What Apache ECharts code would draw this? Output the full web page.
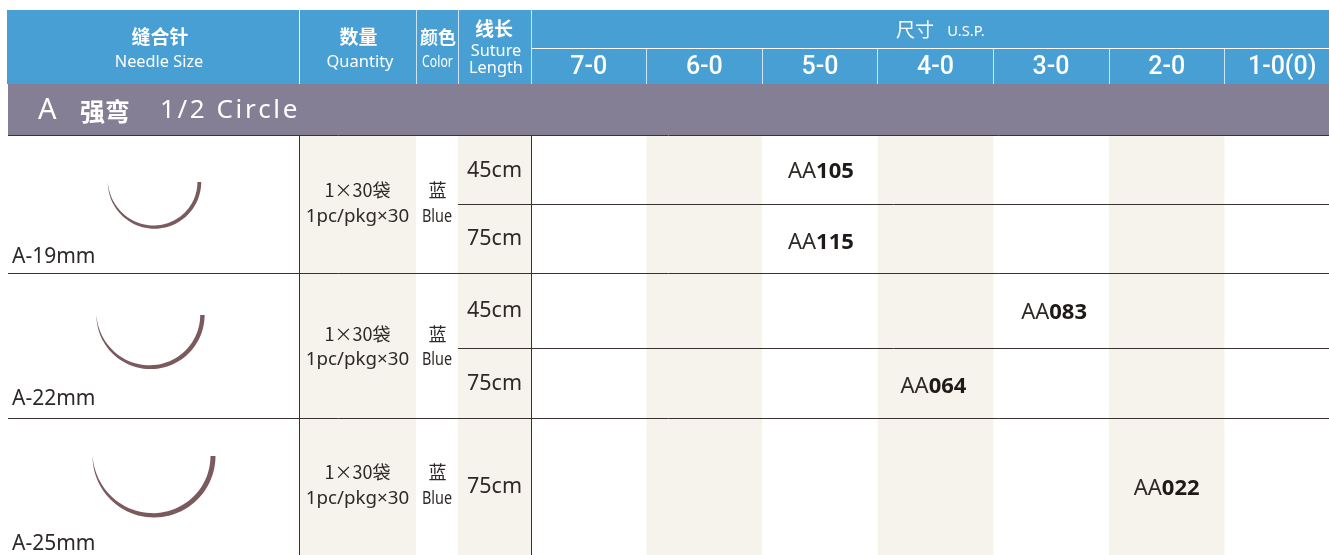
<!DOCTYPE html>
<html>
<head>
<meta charset="utf-8">
<style>
html, body { margin: 0; background: #fff; }
#main { width: 1329px; height: 555px; }
</style>
</head>
<body>
<div id="main"></div>
<script src="https://cdn.jsdelivr.net/npm/echarts@6/dist/echarts.min.js"></script>
<script>
// 数据
const sizes = ['7-0', '6-0', '5-0', '4-0', '3-0', '2-0', '1-0(0)']
const needleLabels = ['A-19mm', 'A-22mm', 'A-25mm']
const needleMm = [19, 22, 25]
const rowLengths = ['45cm', '75cm', '45cm', '75cm', '75cm']
const codeSizes = ['5-0', '5-0', '3-0', '4-0', '2-0']
const codeNumbers = ['105', '115', '083', '064', '022']
const codePrefix = 'AA'

// 版面
const rowCenters = [172, 243, 313, 387, 489]
const codeShift = [1, 1, 3, -2, 0]
const lengthCenters = [171, 239, 311, 384, 487]
const needleCenters = [[154.5, 182], [150.5, 315], [154, 456]]
const needleLabelY = [257.5, 399, 544.5]
const qtyY = [[190, 217], [334, 360], [472, 499]]
const pxPerMm = 2.46

const BLUE = '#479FD4'
const GREY = '#857F95'
const CREAM = '#F6F3EC'
const INK = '#2e2927'
const RULE = '#3a3230'
const CN = '"Noto Sans CJK SC"'
const EN = '"Noto Sans"'

function txt(x, y, text, font, fill, scaleX, align) {
  return {
    type: 'text',
    x: x,
    y: y,
    scaleX: scaleX || 1,
    silent: true,
    style: {
      text: text,
      font: font,
      fill: fill,
      textAlign: align || 'center',
      textVerticalAlign: 'middle',
      align: align || 'center',
      verticalAlign: 'middle',
    },
  }
}

function rule(x1, y1, x2, y2, color) {
  return {
    type: 'line',
    silent: true,
    shape: { x1: x1, y1: y1, x2: x2, y2: y2 },
    style: { stroke: color || RULE, lineWidth: 1 },
  }
}

const white = '#fff'
const graphics = [
  // 表头竖线
  rule(299.5, 10, 299.5, 84, white),
  rule(416.5, 10, 416.5, 84, '#cfe3f2'),
  rule(458.5, 10, 458.5, 84, '#cfe3f2'),
  rule(531.5, 10, 531.5, 84, '#cfe3f2'),
  rule(531.5, 48.5, 1329, 48.5, white),
  // 表格线
  rule(8, 135.5, 1329, 135.5),
  rule(458, 204.5, 1329, 204.5),
  rule(8, 273.5, 1329, 273.5),
  rule(458, 348.5, 1329, 348.5),
  rule(8, 418.5, 1329, 418.5),
  rule(299.5, 136, 299.5, 555),
  rule(531.5, 136, 531.5, 555),
  // 表头文字
  txt(160, 37, '缝合针', 'bold 19px ' + CN, white),
  txt(159, 62, 'Needle Size', '16px ' + EN, white, 1.02),
  txt(358.5, 37, '数量', 'bold 19px ' + CN, white),
  txt(360, 62, 'Quantity', '16px ' + EN, white, 1.03),
  txt(438, 37, '颜色', 'bold 18px ' + CN, white),
  txt(437.5, 62, 'Color', '17px ' + EN, white, 0.72),
  txt(494, 29, '线长', 'bold 19px ' + CN, white),
  txt(496, 51, 'Suture', '16px ' + EN, white, 1.02),
  txt(496, 68, 'Length', '16px ' + EN, white, 1.02),
  txt(915, 30, '尺寸', '19px ' + CN, white),
  txt(966, 32, 'U.S.P.', '15px ' + EN, white, 0.98),
  // 灰色标题
  txt(38, 111, 'A', '29px ' + EN, white, 1, 'left'),
  txt(105, 111, '强弯', 'bold 25px ' + CN, white),
  txt(160, 111, '1/2 Circle'.split('').join('\u200A'), '26px ' + EN, white, 1, 'left'),
]

needleLabels.forEach((label, i) => {
  graphics.push(txt(12, needleLabelY[i], label, '21px ' + EN, INK, 1, 'left'))
  graphics.push(txt(357.5, qtyY[i][0], '1×30袋', '18px ' + CN, INK))
  graphics.push(txt(357.5, qtyY[i][1], '1pc/pkg×30', '17.5px ' + EN, INK, 1.07))
  graphics.push(txt(437.5, qtyY[i][0], '蓝', '18px ' + CN, INK))
  graphics.push(txt(437, qtyY[i][1], 'Blue', '18px ' + EN, INK, 0.8))
})
rowLengths.forEach((label, i) => {
  graphics.push(txt(494.5, lengthCenters[i], label, '21.5px ' + EN, INK))
})

var myChart = echarts.init(document.getElementById('main'), null, { renderer: 'canvas' })

// 底色：表头、灰条、米色列
const panels = [
  [7, 10, 1329, 84, BLUE],
  [8, 84, 1329, 135, GREY],
  [300, 136, 416, 555, CREAM],
  [458, 136, 531, 555, CREAM],
]

var option = {
  animation: false,
  backgroundColor: '#fff',
  grid: [
    { left: 0, top: 0, width: 1329, height: 555, show: false, outerBoundsMode: 'none' },
    { left: 531, top: 84, width: 809, height: 471, show: false, outerBoundsMode: 'none' },
  ],
  xAxis: [
    { type: 'value', gridIndex: 0, min: 0, max: 1329, show: false },
    {
      type: 'category',
      gridIndex: 1,
      position: 'top',
      data: sizes,
      axisLine: { show: false },
      axisTick: {
        show: true,
        length: 35,
        lineStyle: { color: '#cfe3f2', width: 1 },
      },
      splitLine: { show: false },
      axisLabel: {
        interval: 0,
        margin: 4,
        color: '#fff',
        fontSize: 25,
        fontWeight: 500,
        fontFamily: 'Roboto',
      },
    },
  ],
  yAxis: [
    { type: 'value', gridIndex: 0, min: 0, max: 555, inverse: true, show: false },
    { type: 'value', gridIndex: 1, min: 84, max: 555, inverse: true, show: false },
  ],
  graphic: { elements: graphics },
  series: [
    {
      type: 'custom',
      name: 'panels',
      xAxisIndex: 0,
      yAxisIndex: 0,
      z: -1,
      silent: true,
      data: panels,
      renderItem: (params, api) => {
        const a = api.coord([api.value(0), api.value(1)])
        const b = api.coord([api.value(2), api.value(3)])
        return {
          type: 'rect',
          shape: { x: a[0], y: a[1], width: b[0] - a[0], height: b[1] - a[1] },
          style: { fill: panels[params.dataIndex][4] },
        }
      },
    },
    {
      // 偶数列米色
      type: 'custom',
      name: 'bands',
      xAxisIndex: 1,
      yAxisIndex: 1,
      z: -1,
      silent: true,
      data: sizes.map((s, i) => [i, 136]).filter((d) => d[0] % 2 === 1),
      renderItem: (params, api) => {
        const top = api.coord([api.value(0), 136])
        const w = api.size([1, 0])[0]
        return {
          type: 'rect',
          shape: { x: top[0] - w / 2, y: top[1], width: w, height: 555 - top[1] },
          style: { fill: CREAM },
        }
      },
    },
    {
      // 缝合针：一头尖的半圆
      type: 'custom',
      name: 'needles',
      xAxisIndex: 0,
      yAxisIndex: 0,
      silent: true,
      data: needleMm.map((mm, i) => [needleCenters[i][0], needleCenters[i][1], mm]),
      renderItem: (params, api) => {
        const r = api.value(2) * pxPerMm
        const outer = []
        const inner = []
        const steps = 48
        for (let k = 0; k <= steps; k++) {
          const t = k / steps
          const ang = Math.PI * t
          const w = (api.value(2) / 25) * 5 * (1 - t * t * t)
          const cx = api.value(0)
          const cy = api.value(1)
          outer.push(api.coord([cx + r * Math.cos(ang), cy + r * Math.sin(ang)]))
          inner.push(api.coord([cx + (r - w) * Math.cos(ang), cy + (r - w) * Math.sin(ang)]))
        }
        return {
          type: 'polygon',
          shape: { points: outer.concat(inner.reverse()) },
          style: { fill: '#7b5a5e' },
        }
      },
    },
    {
      type: 'scatter',
      name: 'codes',
      xAxisIndex: 1,
      yAxisIndex: 1,
      symbolSize: 0,
      silent: true,
      itemStyle: { opacity: 1 },
      data: codeNumbers.map((num, i) => ({
        value: [codeSizes[i], rowCenters[i]],
        num: num,
        label: { offset: [codeShift[i], 0] },
      })),
      label: {
        show: true,
        position: 'inside',
        opacity: 1,
        formatter: (p) => '{a|' + codePrefix + '}{b|' + p.data.num + '}',
        rich: {
          a: { fontSize: 22, color: INK, fontFamily: EN },
          b: { fontSize: 22, color: '#1f1a18', fontWeight: 'bold', fontFamily: EN },
        },
      },
    },
  ],
}

myChart.setOption(option)
window.onresize = function () {
  myChart.resize()
}
</script>
</body>
</html>
